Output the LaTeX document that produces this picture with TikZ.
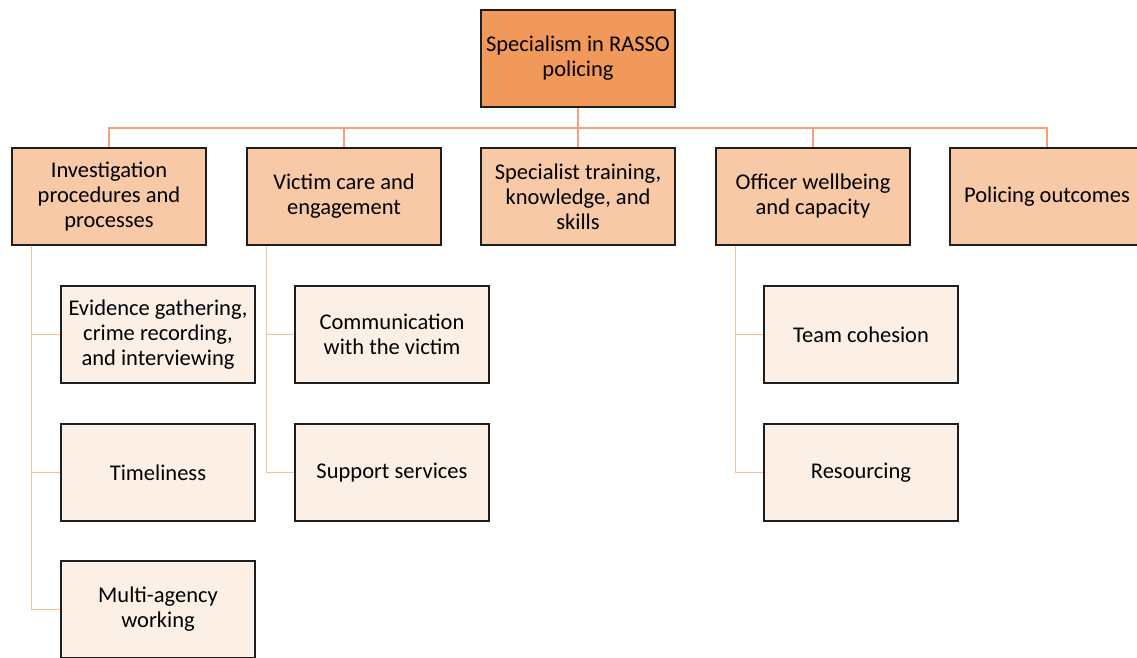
\documentclass[tikz,border=0pt]{standalone}
\usepackage{fontspec}
\setmainfont{Carlito}
\definecolor{topfill}{HTML}{F1995B}
\definecolor{midfill}{HTML}{F7C9A7}
\definecolor{lowfill}{HTML}{FBEFE6}
\definecolor{lineA}{HTML}{F3A27A}
\definecolor{lineB}{HTML}{F6BFA4}
\definecolor{edge}{HTML}{1E1E1E}
\tikzset{
  box/.style={draw=edge, line width=1.3pt, minimum width=194pt, minimum height=97pt,
    align=center, inner sep=0pt, font=\fontsize{22.5}{25}\selectfont},
  topbox/.style={box, fill=topfill},
  midbox/.style={box, fill=midfill},
  lowbox/.style={box, fill=lowfill},
  conA/.style={draw=lineA, line width=1.6pt},
  conB/.style={draw=lineB, line width=1.6pt}
}
\begin{document}
\begin{tikzpicture}[x=1pt,y=1pt]
\useasboundingbox (0,0) rectangle (1137,-658);
\coordinate (bar) at (578,-128);
% nodes
\node[topbox] (top) at (578,-58.5) {Specialism in RASSO\\policing};
\node[midbox] (b1) at (109,-196.5) {Investigation\\procedures and\\processes};
\node[midbox] (b2) at (344,-196.5) {Victim care and\\engagement};
\node[midbox] (b3) at (578,-196.5) {Specialist training,\\knowledge, and\\skills};
\node[midbox] (b4) at (813,-196.5) {Officer wellbeing\\and capacity};
\node[midbox] (b5) at (1047,-196.5) {Policing outcomes};
\node[lowbox] (c11) at (158,-334.5) {Evidence gathering,\\crime recording,\\and interviewing};
\node[lowbox] (c12) at (158,-472.5) {Timeliness};
\node[lowbox] (c13) at (158,-609.5) {Multi-agency\\working};
\node[lowbox] (c21) at (392,-334.5) {Communication\\with the victim};
\node[lowbox] (c22) at (392,-472.5) {Support services};
\node[lowbox] (c41) at (861,-334.5) {Team cohesion};
\node[lowbox] (c42) at (861,-472.5) {Resourcing};
% top-level connectors
\draw[conA] (top.south) -- (bar);
\foreach \b in {b1,b2,b3,b4,b5}{
  \draw[conA] (bar) -| (\b.north);
}
% child connectors
\foreach \p/\c in {b1/c11,b1/c12,b1/c13,b2/c21,b2/c22,b4/c41,b4/c42}{
  \draw[conB] ([xshift=20pt]\p.south west) |- (\c.west);
}
\end{tikzpicture}
\end{document}
